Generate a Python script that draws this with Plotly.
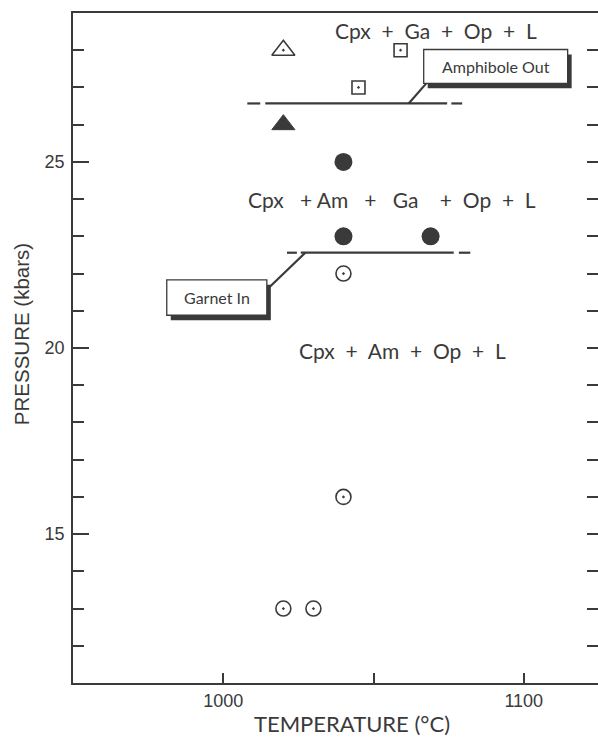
import plotly.graph_objects as go

# ---------------- data ----------------
# experiments: temperature (deg C), pressure (kbar)
open_tri_T = [1020]
open_tri_P = [28]
filled_tri_T = [1020]
filled_tri_P = [26]
open_sq_T = [1059, 1045]
open_sq_P = [28, 27]
filled_circ_T = [1040, 1040, 1069]
filled_circ_P = [25, 23, 23]
open_circ_T = [1040, 1040, 1020, 1030]
open_circ_P = [22, 16, 13, 13]

# phase boundaries
amph_P = 26.57
amph_solid_T = [1014, 1074.5]
amph_dash_left_T = [1008, 1012.3]
amph_dash_right_T = [1075.9, 1079.5]
garnet_P = 22.56
garnet_solid_T = [1025.8, 1076.7]
garnet_dash_left_T = [1021.2, 1024.5]
garnet_dash_right_T = [1078.4, 1082.2]

# axes
x_range = [950, 1124.7]
y_range = [11, 29]
x_tickvals = [1000, 1050, 1100]
x_ticktext = ["1000", "", "1100"]
y_tickvals = [15, 20, 25]
y_ticktext = ["15", "20", "25"]

# field labels
NB = "\u00a0"
field_labels = [
    f"Cpx{NB*2}+{NB*2}Ga{NB*2}+{NB*2}Op{NB*2}+{NB*2}L",
    f"Cpx{NB*3}+{NB*1}Am{NB*3}+{NB*3}Ga{NB*4}+{NB*2}Op{NB*2}+{NB*2}L",
    f"Cpx{NB*2}+{NB*2}Am{NB*2}+{NB*2}Op{NB*2}+{NB*2}L",
]
field_T = [1070.9, 1056.0, 1059.5]
field_P = [28.53, 23.98, 19.92]

# ---------------- styling ----------------
INK = "#3a3a3a"
TICKFONT = dict(family="Liberation Sans, Arial, sans-serif", size=18, color=INK)
LABELFONT = dict(family="Lato, Open Sans, sans-serif", size=21, color=INK)
BOXFONT = dict(family="Lato, Open Sans, sans-serif", size=16, color=INK)

fig = go.Figure()

def seg(xs, P, dash_width=2.2):
    fig.add_trace(go.Scatter(x=xs, y=[P] * len(xs), mode="lines",
                             line=dict(color=INK, width=dash_width),
                             hoverinfo="skip", showlegend=False))

for xs in (amph_solid_T, amph_dash_left_T, amph_dash_right_T):
    seg(xs, amph_P)
for xs in (garnet_solid_T, garnet_dash_left_T, garnet_dash_right_T):
    seg(xs, garnet_P)

def pts(T, P, symbol, size, lw=1.6):
    fig.add_trace(go.Scatter(x=T, y=P, mode="markers",
                             marker=dict(symbol=symbol, size=size, color=INK,
                                         line=dict(color=INK, width=lw)),
                             hoverinfo="skip", showlegend=False))

pts(open_tri_T, open_tri_P, "triangle-up-open-dot", 20)
pts(filled_tri_T, filled_tri_P, "triangle-up", 20, 1)
pts(open_sq_T, open_sq_P, "square-open-dot", 13)
pts(filled_circ_T, filled_circ_P, "circle", 18, 0)
pts(open_circ_T, open_circ_P, "circle-open-dot", 15)

# invisible trace to activate the mirrored right axis
fig.add_trace(go.Scatter(x=open_circ_T, y=open_circ_P, mode="markers", yaxis="y2",
                         marker=dict(opacity=0), hoverinfo="skip", showlegend=False))

# field labels
for txt, t, p in zip(field_labels, field_T, field_P):
    fig.add_annotation(x=t, y=p, text=txt, showarrow=False, font=LABELFONT,
                       xanchor="center", yanchor="middle")

# ---------------- callouts ----------------
dx_sh = 4 / 3.003      # 4 px shadow offset in deg C
dy_sh = 5 / 37.4       # 5 px shadow offset in kbar

def callout(x0, x1, y0, y1, text, leader):
    fig.add_shape(type="rect", x0=x0 + dx_sh, x1=x1 + dx_sh, y0=y0 - dy_sh, y1=y1 - dy_sh,
                  xref="x", yref="y", fillcolor=INK, line=dict(width=0), layer="above")
    fig.add_shape(type="line", x0=leader[0], y0=leader[1], x1=leader[2], y1=leader[3],
                  xref="x", yref="y", line=dict(color=INK, width=2.2), layer="above")
    fig.add_shape(type="rect", x0=x0, x1=x1, y0=y0, y1=y1, xref="x", yref="y",
                  fillcolor="white", line=dict(color=INK, width=1.3), layer="above")
    fig.add_annotation(x=(x0 + x1) / 2, y=(y0 + y1) / 2, text=text, showarrow=False,
                       font=BOXFONT, xanchor="center", yanchor="middle")

callout(1066.7, 1114.6, 27.11, 28.02, "Amphibole Out", (1061.7, amph_P, 1068.0, 27.15))
callout(981.2, 1014.5, 20.88, 21.83, "Garnet In", (1027.3, garnet_P, 1014.9, 21.6))

# axis titles
fig.add_annotation(xref="paper", yref="paper", x=0.531, y=-0.0607, text="TEMPERATURE (°C)",
                   showarrow=False, xanchor="center", yanchor="middle",
                   font=dict(family="Lato, Open Sans, sans-serif", size=22, color=INK))
fig.add_annotation(xref="paper", yref="paper", x=-0.098, y=0.52, text="PRESSURE (kbars)",
                   showarrow=False, xanchor="center", yanchor="middle", textangle=-90,
                   font=dict(family="Liberation Sans, Arial, sans-serif", size=20.5, color=INK))

fig.update_layout(
    width=598, height=743,
    margin=dict(l=73, r=0, t=13, b=60),
    paper_bgcolor="white", plot_bgcolor="white",
    xaxis=dict(range=x_range, tickvals=x_tickvals, ticktext=x_ticktext,
               ticks="inside", ticklen=10, tickwidth=1.6, tickcolor=INK,
               showline=True, linewidth=1.8, linecolor=INK, mirror=True,
               showgrid=False, zeroline=False, tickfont=TICKFONT),
    yaxis=dict(range=y_range, tickvals=y_tickvals, ticktext=y_ticktext,
               ticks="inside", ticklen=16, tickwidth=1.6, tickcolor=INK,
               minor=dict(dtick=1, ticks="inside", ticklen=11, tickwidth=1.6, tickcolor=INK),
               showline=True, linewidth=1.8, linecolor=INK,
               showgrid=False, zeroline=False, tickfont=TICKFONT, ticklabelstandoff=3),
    yaxis2=dict(range=y_range, overlaying="y", side="right", dtick=1, tick0=0,
                ticks="inside", ticklen=11, tickwidth=1.6, tickcolor=INK,
                showticklabels=False, showline=False, showgrid=False, zeroline=False),
)

fig.write_html("out.html", config={"displayModeBar": False},
               post_script="document.body.style.margin='0px';document.body.style.overflow='hidden';")
